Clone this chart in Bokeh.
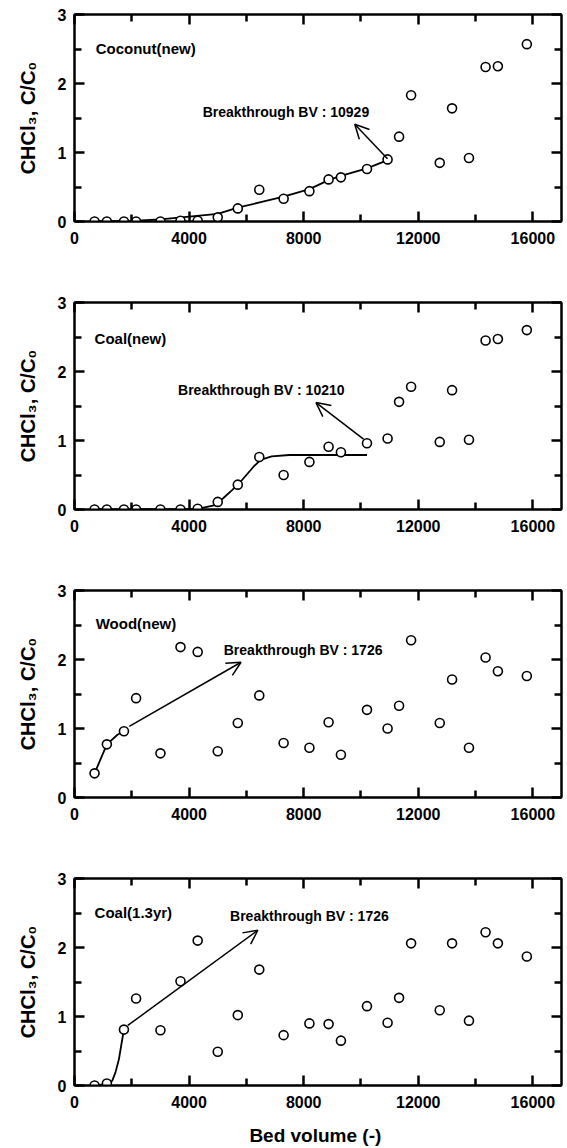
from bokeh.plotting import figure
from bokeh.layouts import column
from bokeh.models import Range1d, FixedTicker, LinearAxis, Arrow, OpenHead, ColumnDataSource
from bokeh.core.properties import value
from bokeh.embed import file_html
from bokeh.resources import INLINE

# ---------------- data ----------------
bed_volume = [700, 1130, 1726, 2150, 3000, 3700, 4300, 5000, 5700, 6450, 7300, 8200,
              8870, 9300, 10210, 10929, 11330, 11750, 12750, 13180, 13770, 14350, 14780, 15790]

coconut_new = [0.0, 0.0, 0.0, 0.0, 0.0, 0.01, 0.01, 0.06, 0.19, 0.46, 0.33, 0.44,
               0.61, 0.64, 0.76, 0.90, 1.23, 1.83, 0.85, 1.64, 0.92, 2.24, 2.25, 2.57]
coal_new = [0.0, 0.0, 0.0, 0.0, 0.0, 0.0, 0.01, 0.11, 0.36, 0.76, 0.50, 0.69,
            0.91, 0.83, 0.96, 1.03, 1.56, 1.78, 0.98, 1.73, 1.01, 2.45, 2.47, 2.60]
wood_new = [0.35, 0.77, 0.96, 1.44, 0.64, 2.18, 2.11, 0.67, 1.08, 1.48, 0.79, 0.72,
            1.09, 0.62, 1.27, 1.00, 1.33, 2.28, 1.08, 1.71, 0.72, 2.03, 1.83, 1.76]
coal_13yr = [0.0, 0.03, 0.81, 1.26, 0.80, 1.51, 2.10, 0.49, 1.02, 1.68, 0.73, 0.90,
             0.89, 0.65, 1.15, 0.91, 1.27, 2.06, 1.09, 2.06, 0.94, 2.22, 2.06, 1.87]

# fitted breakthrough curves
coconut_fit_x = [700, 2000, 3000, 4000, 5000, 5700, 6500, 7300, 8200, 8870, 9300, 10210, 10929]
coconut_fit_y = [0.0, 0.01, 0.03, 0.07, 0.11, 0.20, 0.28, 0.36, 0.47, 0.60, 0.66, 0.77, 0.89]
coal_fit_x = [700, 4300, 4870, 5180, 5500, 5750, 6000, 6250, 6500, 6880, 7500, 10210]
coal_fit_y = [0.0, 0.01, 0.06, 0.16, 0.28, 0.38, 0.50, 0.62, 0.72, 0.77, 0.79, 0.79]
wood_fit_x = [700, 1130, 1500, 1726]
wood_fit_y = [0.35, 0.77, 0.91, 0.96]
coal13_fit_x = [700, 1130, 1320, 1430, 1550, 1630, 1726]
coal13_fit_y = [0.0, 0.02, 0.07, 0.19, 0.38, 0.58, 0.81]

panel_labels = ["Coconut(new)", "Coal(new)", "Wood(new)", "Coal(1.3yr)"]
panel_label_x = [740, 700, 740, 700]
panel_label_y = [2.51, 2.48, 2.52, 2.51]

breakthrough_text = ["Breakthrough BV : 10929", "Breakthrough BV : 10210",
                     "Breakthrough BV : 1726", "Breakthrough BV : 1726"]
breakthrough_text_x = [7380, 6520, 7980, 8200]
breakthrough_text_y = [1.58, 1.73, 2.14, 2.45]

arrow_x_start = [10926, 10090, 1912, 1860]
arrow_y_start = [0.91, 1.02, 1.03, 0.87]
arrow_x_end = [9783, 8430, 5812, 6400]
arrow_y_end = [1.41, 1.55, 1.96, 2.25]

x_major = [0, 4000, 8000, 12000, 16000]
x_minor = [2000, 6000, 10000, 14000]
y_major = [0, 1, 2, 3]
y_minor = [0.5, 1.5, 2.5]

series = [coconut_new, coal_new, wood_new, coal_13yr]
fits_x = [coconut_fit_x, coal_fit_x, wood_fit_x, coal13_fit_x]
fits_y = [coconut_fit_y, coal_fit_y, wood_fit_y, coal13_fit_y]

FONT = "Liberation Sans"


def style_axis(ax, show_labels, ticks):
    ax.axis_line_width = 2
    ax.axis_line_color = "black"
    ax.major_tick_in = 10
    ax.major_tick_out = 0
    ax.minor_tick_in = 7
    ax.minor_tick_out = 0
    ax.major_tick_line_width = 2.5
    ax.minor_tick_line_width = 2.5
    ax.major_tick_line_color = "black"
    ax.minor_tick_line_color = "black"
    ax.major_label_text_font = FONT
    ax.major_label_text_font_style = "bold"
    ax.major_label_text_color = "black"
    ax.major_label_text_font_size = "16px"
    if not show_labels:
        ax.major_label_overrides = {t: "" for t in ticks}
        ax.major_label_standoff = 0


def make_panel(i, last):
    p = figure(frame_width=487, frame_height=207,
               min_border_left=74, min_border_right=6,
               min_border_top=14, min_border_bottom=(63 if last else 67),
               x_range=Range1d(0, 17000), y_range=Range1d(0, 3),
               x_axis_type=None, y_axis_type=None,
               output_backend="svg", toolbar_location=None)
    p.outline_line_color = "black"
    p.outline_line_width = 2
    p.background_fill_color = "white"
    p.border_fill_color = "white"

    bottom = LinearAxis(ticker=FixedTicker(ticks=x_major, minor_ticks=x_minor))
    left = LinearAxis(ticker=FixedTicker(ticks=y_major, minor_ticks=y_minor))
    top = LinearAxis(ticker=FixedTicker(ticks=x_major, minor_ticks=x_minor))
    right = LinearAxis(ticker=FixedTicker(ticks=y_major, minor_ticks=y_minor))
    style_axis(bottom, True, x_major)
    style_axis(left, True, y_major)
    style_axis(top, False, x_major)
    style_axis(right, False, y_major)
    bottom.major_label_standoff = 10
    left.major_label_standoff = 8

    left.axis_label = "CHCl\u2083, C/C\u2080"
    left.axis_label_text_font = FONT
    left.axis_label_text_font_style = "bold"
    left.axis_label_text_font_size = "20px"
    left.axis_label_standoff = 16
    left.axis_label_text_color = "black"

    if last:
        bottom.axis_label = "Bed volume  (-)"
        bottom.axis_label_text_font = FONT
        bottom.axis_label_text_font_style = "bold"
        bottom.axis_label_text_font_size = "19px"
        bottom.axis_label_standoff = 14
        bottom.axis_label_text_color = "black"

    p.add_layout(bottom, "below")
    p.add_layout(left, "left")
    p.add_layout(top, "above")
    p.add_layout(right, "right")

    # fitted curve
    p.line(fits_x[i], fits_y[i], line_color="black", line_width=1.8)

    # arrow
    src = ColumnDataSource(dict(x0=[arrow_x_start[i]], y0=[arrow_y_start[i]],
                                x1=[arrow_x_end[i]], y1=[arrow_y_end[i]]))
    p.add_layout(Arrow(end=OpenHead(size=14, line_width=1.5, line_color="black"),
                       x_start="x0", y_start="y0", x_end="x1", y_end="y1",
                       source=src, line_width=1.5, line_color="black"))

    # data points
    p.scatter(bed_volume, series[i], marker="circle", size=9,
              fill_color="white", line_color="black", line_width=1.6)

    # texts
    p.text(x=[panel_label_x[i]], y=[panel_label_y[i]], text=[panel_labels[i]],
           text_font=value(FONT), text_font_style="bold", text_font_size="15px",
           text_align="left", text_baseline="middle", text_color="black")
    p.text(x=[breakthrough_text_x[i]], y=[breakthrough_text_y[i]], text=[breakthrough_text[i]],
           text_font=value(FONT), text_font_style="bold", text_font_size="14px",
           text_align="center", text_baseline="middle", text_color="black")
    return p


panels = [make_panel(i, i == 3) for i in range(4)]
layout = column(*panels, spacing=0)

open("out.html", "w").write(file_html(layout, INLINE))
